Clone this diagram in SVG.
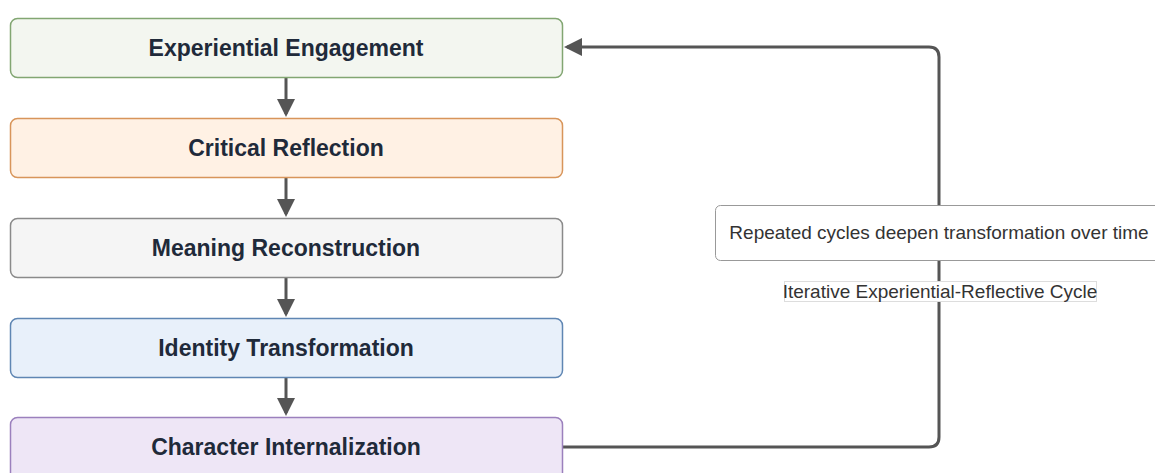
<svg xmlns="http://www.w3.org/2000/svg" width="1155" height="473" viewBox="0 0 1155 473">
<style>
.node rect{stroke-width:1.5}
.nt{font-family:"Liberation Sans",Arial,sans-serif;font-weight:bold;font-size:23px;fill:#1f2a3a;text-anchor:middle}
.lt{font-family:"Liberation Sans",Arial,sans-serif;font-size:19px;fill:#333;text-anchor:middle}
.edge{fill:none;stroke:#555;stroke-width:3}
</style>
<defs>
<marker id="ah" markerWidth="6" markerHeight="6" refX="5" refY="3" orient="auto" markerUnits="strokeWidth">
<path d="M0,0 L6,3 L0,6 Z" fill="#555"/>
</marker>
</defs>
<g id="connectors">
<path class="edge" d="M286,78 L286,114" marker-end="url(#ah)"/>
<path class="edge" d="M286,178 L286,214" marker-end="url(#ah)"/>
<path class="edge" d="M286,278 L286,314" marker-end="url(#ah)"/>
<path class="edge" d="M286,378 L286,413" marker-end="url(#ah)"/>
<path class="edge" d="M563,447 L929,447 Q939,447 939,437 L939,57 Q939,47 929,47 L567,47" marker-end="url(#ah)"/>
</g>
<g id="n1" class="node"><rect x="10.5" y="18.5" width="552" height="59" rx="7" fill="#f3f6f0" stroke="#82a672"/><text class="nt" x="286" y="56">Experiential Engagement</text></g>
<g id="n2" class="node"><rect x="10.5" y="118.5" width="552" height="59" rx="7" fill="#fff1e4" stroke="#d8955a"/><text class="nt" x="286" y="156">Critical Reflection</text></g>
<g id="n3" class="node"><rect x="10.5" y="218.5" width="552" height="59" rx="7" fill="#f5f5f5" stroke="#8a8a8a"/><text class="nt" x="286" y="256">Meaning Reconstruction</text></g>
<g id="n4" class="node"><rect x="10.5" y="318.5" width="552" height="59" rx="7" fill="#e8f0fa" stroke="#5f86b3"/><text class="nt" x="286" y="356">Identity Transformation</text></g>
<g id="n5" class="node"><rect x="10.5" y="417.5" width="552" height="62" rx="7" fill="#eee6f6" stroke="#9b80bd"/><text class="nt" x="286" y="455">Character Internalization</text></g>
<g id="note"><rect x="715.5" y="205.5" width="450" height="55" rx="5" fill="#fff" stroke="#999" stroke-width="1"/><text class="lt" x="939" y="239">Repeated cycles deepen transformation over time</text></g>
<g id="label"><rect x="784.5" y="281.5" width="312" height="20" fill="#fff" stroke="#ddd" stroke-width="1"/><text class="lt" x="940" y="298">Iterative Experiential-Reflective Cycle</text></g>
</svg>
